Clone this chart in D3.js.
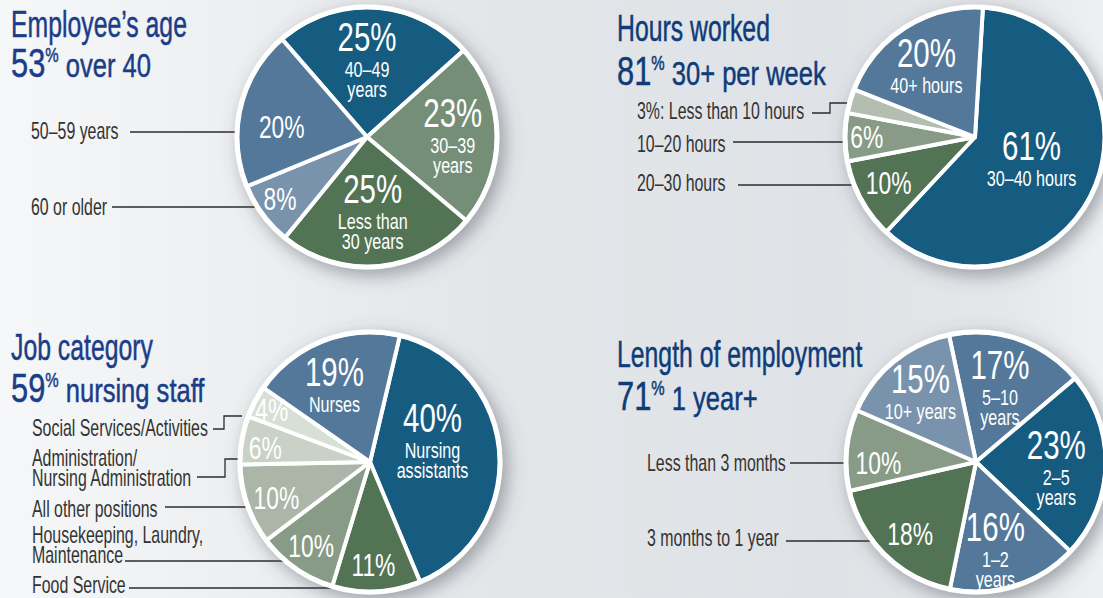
<!DOCTYPE html>
<html lang="en">
<head>
<meta charset="UTF-8">
<script src="https://cdn.jsdelivr.net/npm/d3@7"></script>
<title>Employee profile</title>
<style>
  body { margin: 0; }
  svg { display: block; }
  text { font-family: "Liberation Sans Narrow", "Arial Narrow", "Liberation Sans", sans-serif; }
</style>
</head>
<body>
<svg id="vis" width="1103" height="598"></svg>
<script>
// ---- data ----
// Employee's age
var ageTitle = ["Employee’s age", "53", " over 40"];
var ageCats = ["40–49 years", "30–39 years", "Less than 30 years", "60 or older", "50–59 years"];
var ageValues = [25, 23, 25, 8, 20];
var ageInner = [["40–49", "years"], ["30–39", "years"], ["Less than", "30 years"], [], []];
var ageOuter = [[], [], [], ["60 or older"], ["50–59 years"]];

// Hours worked
var hoursTitle = ["Hours worked", "81", " 30+ per week"];
var hoursCats = ["30–40 hours", "20–30 hours", "10–20 hours", "Less than 10 hours", "40+ hours"];
var hoursValues = [61, 10, 6, 3, 20];
var hoursInner = [["30–40 hours"], [], [], null, ["40+ hours"]];
var hoursOuter = [[], ["20–30 hours"], ["10–20 hours"], ["3%: Less than 10 hours"], []];

// Job category
var jobTitle = ["Job category", "59", " nursing staff"];
var jobCats = ["Nursing assistants", "Food Service", "Housekeeping, Laundry, Maintenance",
  "All other positions", "Administration/Nursing Administration", "Social Services/Activities", "Nurses"];
var jobValues = [40, 11, 10, 10, 6, 4, 19];
var jobInner = [["Nursing", "assistants"], [], [], [], [], [], ["Nurses"]];
var jobOuter = [[], ["Food Service"], ["Housekeeping, Laundry,", "Maintenance"], ["All other positions"],
  ["Administration/", "Nursing Administration"], ["Social Services/Activities"], []];

// Length of employment
var tenureTitle = ["Length of employment", "71", " 1 year+"];
var tenureCats = ["5–10 years", "2–5 years", "1–2 years", "3 months to 1 year", "Less than 3 months", "10+ years"];
var tenureValues = [17, 23, 16, 18, 10, 15];
var tenureInner = [["5–10", "years"], ["2–5", "years"], ["1–2", "years"], [], [], ["10+ years"]];
var tenureOuter = [[], [], [], ["3 months to 1 year"], ["Less than 3 months"], []];

// ---- layout ----
var DKBLUE = "#175c80", SLATE = "#52789a", LTSLATE = "#7a93ad",
    DKGREEN = "#527355", GREEN = "#879b86";

var charts = [
  { title: ageTitle, values: ageValues, inner: ageInner, outer: ageOuter,
    cx: 367, cy: 137, start: -41, tx: 11, ty: [37, 77], tcol: "#1b3d88",
    colors: [DKBLUE, "#758e77", DKGREEN, LTSLATE, SLATE],
    lab: [[-3.5, 0.58], [0, 0.65], [1, 0.57], [1, 0.81], [-7, 0.65]],
    pos: {3: {x: 31, y: 215, line: [[112, 207], [256, 207]]},
          4: {x: 31, y: 139, line: [[130, 132], [252, 132]]}} },
  { title: hoursTitle, values: hoursValues, inner: hoursInner, outer: hoursOuter,
    cx: 975, cy: 137, start: 3.5, tx: 617, ty: [41, 85], tcol: "#0f3c78",
    colors: [DKBLUE, DKGREEN, GREEN, "#b3bdb0", SLATE],
    lab: [[-2, 0.46], [1, 0.74], [0, 0.82], null, [-2, 0.65]],
    pos: {1: {x: 637, y: 191, line: [[738, 185], [857, 185]]},
          2: {x: 637, y: 152, line: [[733, 142], [849, 142]]},
          3: {x: 637, y: 119, line: [[812, 113], [830, 113], [830, 103], [855, 103]]}} },
  { title: jobTitle, values: jobValues, inner: jobInner, outer: jobOuter,
    cx: 370, cy: 462, start: 13.3, tx: 11, ty: [360, 402], tcol: "#1b3d88",
    colors: [DKBLUE, DKGREEN, GREEN, "#abb6a8", "#cad2c7", "#d8dfd5", SLATE],
    lab: [[-14, 0.5], [1, 0.78], [0, 0.78], [-2, 0.76], [-2, 0.8], [0, 0.84], [-4, 0.64]],
    pos: {1: {x: 32, y: 593, line: [[129, 588], [365, 588]]},
          2: {x: 32, y: 543, line: [[125, 561], [293, 561]]},
          3: {x: 32, y: 517, line: [[165, 507], [250, 507]]},
          4: {x: 32, y: 466, line: [[197, 477], [225, 477], [225, 459], [240, 459]]},
          5: {x: 32, y: 436, line: [[213, 429], [224, 429], [224, 416], [242, 416]]}} },
  { title: tenureTitle, values: tenureValues, inner: tenureInner, outer: tenureOuter,
    cx: 976, cy: 462, start: -12, tx: 617, ty: [367, 410], tcol: "#0f3c78",
    colors: [SLATE, DKBLUE, SLATE, DKGREEN, GREEN, LTSLATE],
    lab: [[-1, 0.59], [2.6, 0.61], [5, 0.68], [-2, 0.74], [-6, 0.74], [1, 0.68]],
    pos: {3: {x: 647, y: 546, line: [[786, 541], [877, 541]]},
          4: {x: 647, y: 471, line: [[790, 463], [849, 463]]}} }
];

var R = 130;   // slice radius (white border adds ~2px)
var svg = d3.select("#vis");
var defs = svg.append("defs");

var bg = defs.append("linearGradient").attr("id", "bg").attr("x1", 0).attr("x2", 1).attr("y1", 0).attr("y2", 0);
[[0, "#f6f7f8"], [0.45, "#e3e6e9"], [0.75, "#dfe2e6"], [0.92, "#e5e7ea"], [1, "#eef0f2"]].forEach(function(s) {
  bg.append("stop").attr("offset", s[0]).attr("stop-color", s[1]);
});
var f = defs.append("filter").attr("id", "shadow")
  .attr("x", "-30%").attr("y", "-30%").attr("width", "160%").attr("height", "160%");
f.append("feDropShadow").attr("dx", 5).attr("dy", 6).attr("stdDeviation", 9)
  .attr("flood-color", "#4f5660").attr("flood-opacity", 0.5);

svg.append("rect").attr("width", 1103).attr("height", 598).attr("fill", "url(#bg)");

// measure helper, used to squeeze the text to the condensed look of the original
function measure(build) {
  var t = svg.append("text");
  build(t);
  var w = t.node().getComputedTextLength();
  t.remove();
  return w;
}
function plain(str, size) { return function(t) { t.attr("font-size", size).text(str); }; }
function titleLine2(t, big, rest) {
  t.append("tspan").attr("font-size", 41).text(big);
  t.append("tspan").attr("font-size", 20).attr("dy", -15).text("%");
  t.append("tspan").attr("font-size", 34).attr("dy", 15).text(rest);
}

var kLabel = 176 / measure(plain("Social Services/Activities", 23));
var kTitle = 176 / measure(plain("Employee’s age", 37));
var kTitle2 = 140 / measure(function(t) { titleLine2(t, "53", " over 40"); });
var kPct = 59 / measure(plain("25%", 40));
var kSub = 70 / measure(plain("Less than", 23));

function place(x, y, k) { return "translate(" + x + "," + y + ") scale(" + k + ",1)"; }

charts.forEach(function(c) {
  // title
  svg.append("text").attr("transform", place(c.tx, c.ty[0], kTitle))
    .attr("font-size", 37).attr("fill", c.tcol)
    .attr("stroke", c.tcol).attr("stroke-width", 0.5).text(c.title[0]);
  var t2 = svg.append("text").attr("transform", place(c.tx, c.ty[1], kTitle2))
    .attr("fill", c.tcol).attr("stroke", c.tcol).attr("stroke-width", 0.5);
  titleLine2(t2, c.title[1], c.title[2]);

  // outer labels + leaders
  c.outer.forEach(function(lines, i) {
    if (!lines.length) return;
    var p = c.pos[i];
    lines.forEach(function(s, j) {
      svg.append("text").attr("transform", place(p.x, p.y + j * 20, kLabel))
        .attr("font-size", 23).attr("fill", "#333").text(s);
    });
    svg.append("path").attr("d", d3.line()(p.line))
      .attr("fill", "none").attr("stroke", "#2b2b2b").attr("stroke-width", 1.3);
  });

  // pie
  var a0 = c.start * Math.PI / 180;
  var pie = d3.pie().sort(null).startAngle(a0).endAngle(a0 + 2 * Math.PI);
  var arc = d3.arc().innerRadius(0).outerRadius(R);
  var arcs = pie(c.values);
  var g = svg.append("g").attr("transform", "translate(" + c.cx + "," + c.cy + ")");
  var gp = g.append("g").attr("filter", "url(#shadow)");
  gp.selectAll("path").data(arcs).join("path")
    .attr("d", arc)
    .attr("fill", function(d, i) { return c.colors[i]; })
    .attr("stroke", "#fff").attr("stroke-width", 4).attr("stroke-linejoin", "round");
  gp.append("circle").attr("r", R).attr("fill", "none").attr("stroke", "#fff").attr("stroke-width", 5);

  // inner labels
  arcs.forEach(function(d, i) {
    if (c.inner[i] === null) return;
    var subs = c.inner[i];
    var ang = (d.startAngle + d.endAngle) / 2 + c.lab[i][0] * Math.PI / 180;
    var dist = c.lab[i][1] * (R + 2);
    var x = dist * Math.sin(ang), y = -dist * Math.cos(ang);
    var big = subs.length > 0;
    var size = big ? 40 : 31;
    var cap = size * 0.7;
    var H = cap + (big ? 26 + 20 * (subs.length - 1) : 0);
    var b0 = y - H / 2 + cap;
    g.append("text").attr("transform", place(x, b0, kPct))
      .attr("text-anchor", "middle").attr("font-size", size).attr("fill", "#fff")
      .text(c.values[i] + "%");
    subs.forEach(function(s, j) {
      g.append("text").attr("transform", place(x, b0 + 26 + 20 * j, kSub))
        .attr("text-anchor", "middle").attr("font-size", 23).attr("fill", "#fff")
        .text(s);
    });
  });
});
</script>
</body>
</html>
